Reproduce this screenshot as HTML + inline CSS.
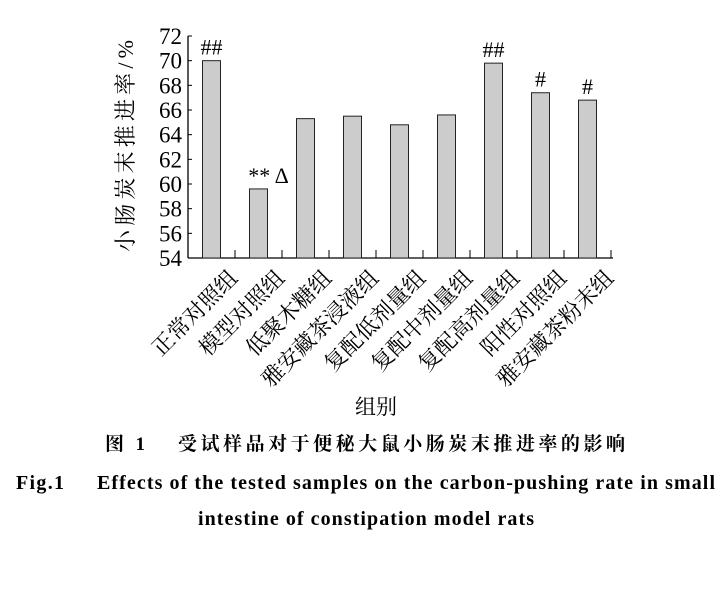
<!DOCTYPE html>
<html><head><meta charset="utf-8"><style>
body{margin:0;background:#fff;}
svg{display:block;}
text{font-family:"Liberation Serif","Noto Serif CJK SC",serif;}
</style></head><body>
<svg width="725" height="594" viewBox="0 0 725 594">
<g id="plot"></g>
<text x="376" y="414" font-size="21" text-anchor="middle" font-family="Liberation Serif, Noto Serif CJK SC, serif">组别</text>
<text transform="translate(133,146) rotate(-90)" font-size="22" text-anchor="middle" textLength="212" font-family="Liberation Serif, Noto Serif CJK SC, serif">小肠炭末推进率/%</text>
<text x="105" y="450" font-size="19" font-weight="bold" font-family="Liberation Serif, Noto Serif CJK SC, serif"><tspan textLength="40">图 1</tspan><tspan x="178" textLength="447">受试样品对于便秘大鼠小肠炭末推进率的影响</tspan></text>
<text x="16" y="489" font-size="20" font-weight="bold" font-family="Liberation Serif, serif"><tspan textLength="48">Fig.1</tspan><tspan x="97" textLength="618">Effects of the tested samples on the carbon-pushing rate in small</tspan></text>
<text x="198" y="525" font-size="20" font-weight="bold" textLength="336" font-family="Liberation Serif, serif">intestine of constipation model rats</text>
</svg>
<script>
const categories=["正常对照组","模型对照组","低聚木糖组","雅安藏茶浸液组","复配低剂量组","复配中剂量组","复配高剂量组","阳性对照组","雅安藏茶粉末组"];
const values=[70.0,59.6,65.3,65.5,64.8,65.6,69.8,67.4,66.8];
const marks=["##","** Δ","","","","","##","#","#"];
const yTicks=[54,56,58,60,62,64,66,68,70,72];
const NS="http://www.w3.org/2000/svg";
const g=document.getElementById('plot');
const FF="Liberation Serif, Noto Serif CJK SC, serif";
const x0=188,x1=611,yTop=36,yBot=258,yMin=54,yMax=72;
const bw=(x1-x0)/categories.length;
function y(v){return yBot-(v-yMin)/(yMax-yMin)*(yBot-yTop);}
function xc(i){return x0+bw*(i+0.5);}
function mk(t,a,txt){const e=document.createElementNS(NS,t);for(const k in a)e.setAttribute(k,a[k]);if(t==='text')e.setAttribute('font-family',FF);if(txt!==undefined)e.textContent=txt;g.appendChild(e);return e;}
let e;
e=mk('line',{x1:x0,y1:yTop,x2:x0,y2:yBot,stroke:'#000','stroke-width':1.3});


e=mk('line',{x1:x0,y1:yBot,x2:x1+2,y2:yBot,stroke:'#000','stroke-width':1.3});


yTicks.forEach(t=>{
 e=mk('line',{x1:x0,y1:y(t),x2:x0+4,y2:y(t),stroke:'#000','stroke-width':1});
 
 
 e=mk('text',{x:x0-6,y:y(t)+8,'font-size':23,'text-anchor':'end'},t);
 
 
});
for(let i=1;i<=categories.length;i++){
 e=mk('line',{x1:x0+bw*i,y1:yBot,x2:x0+bw*i,y2:yBot-8,stroke:'#000','stroke-width':1});
 
 
}
categories.forEach((c,i)=>{
 const cx=xc(i);
 e=mk('rect',{x:cx-9,y:y(values[i]),width:18,height:yBot-y(values[i]),fill:'#cccccc',stroke:'#222','stroke-width':1});
 
 
 if(marks[i]){
  e=mk('text',{x:cx+(i==1?10:0),y:y(values[i])-6,'font-size':22,'text-anchor':'middle'},marks[i]);
  
  
 }
 e=mk('text',{transform:`translate(${cx+16},${yBot+10}) rotate(-45)`,'font-size':22,'text-anchor':'end','dominant-baseline':'hanging'},c);
 
 
});
</script>
</body></html>
